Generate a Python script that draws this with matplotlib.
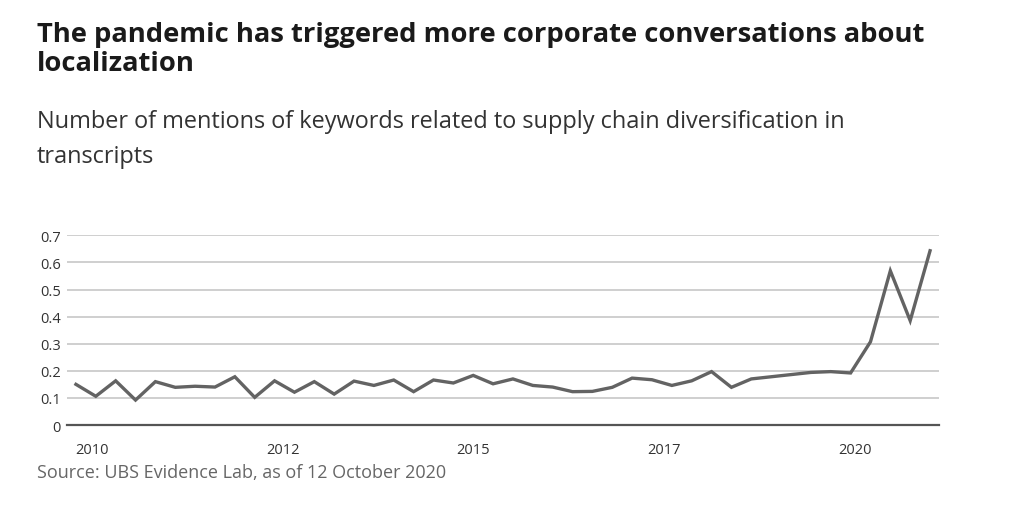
import numpy as np
import matplotlib.pyplot as plt

plt.rcParams['font.family'] = ['Open Sans', 'DejaVu Sans']

# quarterly mentions
mentions = [0.150, 0.106, 0.163, 0.092, 0.160, 0.139, 0.143, 0.140, 0.178, 0.102,
            0.163, 0.121, 0.160, 0.114, 0.162, 0.146, 0.166, 0.123, 0.166, 0.155,
            0.183, 0.152, 0.170, 0.146, 0.140, 0.123, 0.124, 0.139, 0.173, 0.167,
            0.146, 0.163, 0.197, 0.139, 0.170, 0.178, 0.186, 0.194, 0.197, 0.192,
            0.307, 0.569, 0.385, 0.643]
year_labels = ['2010', '2012', '2015', '2017', '2020']
year_pos = [0.8, 10.4, 20.0, 29.6, 39.2]
y_ticks = [0, 0.1, 0.2, 0.3, 0.4, 0.5, 0.6, 0.7]

title = 'The pandemic has triggered more corporate conversations about\nlocalization'
subtitle = 'Number of mentions of keywords related to supply chain diversification in\ntranscripts'
source = 'Source: UBS Evidence Lab, as of 12 October 2020'

fig = plt.figure(figsize=(10.24, 5.1), dpi=100)
ax = fig.add_axes([67 / 1024, 1 - 426 / 510, 872 / 1024, (426 - 236.3) / 510])

x = np.arange(len(mentions))
ax.plot(x, mentions, color='#636363', lw=2.4, zorder=3, solid_joinstyle='miter')

ax.set_xlim(-0.45, 43.45)
ax.set_ylim(0, 0.7)
ax.set_yticks(y_ticks)
ax.set_yticklabels(['0' if v == 0 else f'{v:.1f}' for v in y_ticks])
ax.set_xticks(year_pos)
ax.set_xticklabels(year_labels)
ax.tick_params(length=0, labelsize=10.5, colors='#333333')
ax.tick_params(axis='y', pad=4.5)
ax.tick_params(axis='x', pad=12.5)

ax.grid(axis='y', color='#cccccc', lw=1.3)
ax.set_axisbelow(True)
for s in ['top', 'right', 'left']:
    ax.spines[s].set_visible(False)
ax.spines['bottom'].set_color('#555555')
ax.spines['bottom'].set_linewidth(1.6)

# multi-line text: baseline alignment is on the last line
fig.text(37 / 1024, 1 - 71 / 510, title, fontsize=19.7, fontweight='bold',
         color='#1a1a1a', va='baseline', linespacing=1.15)
fig.text(37 / 1024, 1 - 163 / 510, subtitle, fontsize=16.9, color='#333333',
         va='baseline', linespacing=1.62)
fig.text(37 / 1024, 1 - 478 / 510, source, fontsize=13, color='#666666', va='baseline')

fig.savefig('out.png', dpi=100)
